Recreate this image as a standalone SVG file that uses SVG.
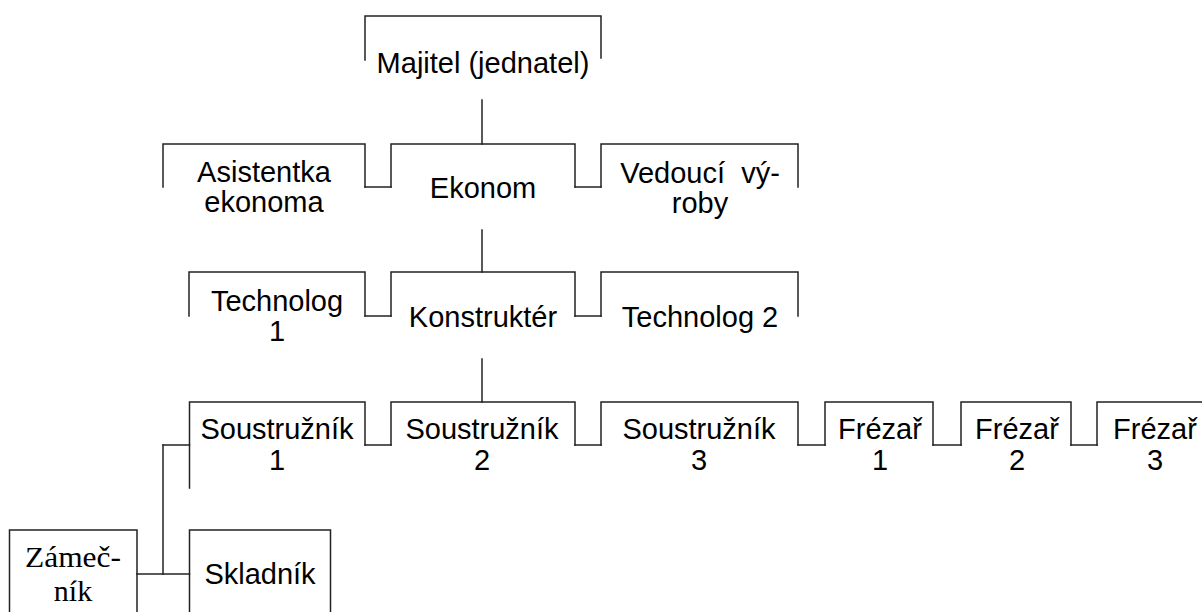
<svg xmlns="http://www.w3.org/2000/svg" width="1202" height="612" viewBox="0 0 1202 612">
<style>
.ln{fill:none;stroke:#222;stroke-width:1.5;stroke-linecap:square}
.t{font-family:"Liberation Sans",Arial,sans-serif;font-size:29px;fill:#000;text-anchor:middle}
.s{font-family:"Liberation Serif","Times New Roman",serif;font-size:30px;fill:#000;text-anchor:middle}
</style>
<rect width="1202" height="612" fill="#fff"/>
<g id="connectors" class="ln">
<path d="M482,100V144"/>
<path d="M482,230V272"/>
<path d="M482,359V402"/>
<path d="M365,187H391"/>
<path d="M575,187H601"/>
<path d="M365,316H391"/>
<path d="M575,316H601"/>
<path d="M365,445H391"/>
<path d="M575,445H601"/>
<path d="M798,445H825"/>
<path d="M933,445H961"/>
<path d="M1071,445H1097"/>
<path d="M163,445H189.5"/>
<path d="M163,445V574"/>
<path d="M137,574H189.5"/>
</g>
<g id="majitel"><path class="ln" d="M365,60V16H601V58"/><text class="t" x="483" y="73">Majitel (jednatel)</text></g>
<g id="asistentka"><path class="ln" d="M163,187V144H365V187"/><text class="t" x="264" y="182">Asistentka</text><text class="t" x="264" y="212">ekonoma</text></g>
<g id="ekonom"><path class="ln" d="M391,187V144H575V187"/><text class="t" x="483" y="198">Ekonom</text></g>
<g id="vedouci"><path class="ln" d="M601,187V144H798V187"/><text class="t" x="700" y="183" xml:space="preserve">Vedoucí  vý-</text><text class="t" x="700" y="213">roby</text></g>
<g id="technolog1"><path class="ln" d="M189,316V272H365V316"/><text class="t" x="277" y="311">Technolog</text><text class="t" x="277" y="341">1</text></g>
<g id="konstrukter"><path class="ln" d="M391,316V272H575V316"/><text class="t" x="483" y="327">Konstruktér</text></g>
<g id="technolog2"><path class="ln" d="M601,316V272H798V316"/><text class="t" x="700" y="327">Technolog 2</text></g>
<g id="soustruznik1"><path class="ln" d="M189.5,488V402H365V445"/><text class="t" x="277" y="439">Soustružník</text><text class="t" x="277" y="470">1</text></g>
<g id="soustruznik2"><path class="ln" d="M391,445V402H575V445"/><text class="t" x="482" y="439">Soustružník</text><text class="t" x="482" y="470">2</text></g>
<g id="soustruznik3"><path class="ln" d="M601,445V402H798V445"/><text class="t" x="699" y="439">Soustružník</text><text class="t" x="699" y="470">3</text></g>
<g id="frezar1"><path class="ln" d="M825,445V402H933V445"/><text class="t" x="880" y="439">Frézař</text><text class="t" x="880" y="470">1</text></g>
<g id="frezar2"><path class="ln" d="M961,445V402H1071V445"/><text class="t" x="1017" y="439">Frézař</text><text class="t" x="1017" y="470">2</text></g>
<g id="frezar3"><path class="ln" d="M1097,445V402H1203"/><text class="t" x="1155" y="439">Frézař</text><text class="t" x="1155" y="470">3</text></g>
<g id="zamecnik"><rect class="ln" x="9.5" y="530" width="127.5" height="100"/><text class="s" x="73" y="567" textLength="96" lengthAdjust="spacingAndGlyphs">Zámeč-</text><text class="s" x="73" y="601">ník</text></g>
<g id="skladnik"><rect class="ln" x="189.5" y="530" width="141" height="100"/><text class="t" x="260" y="584">Skladník</text></g>
</svg>
